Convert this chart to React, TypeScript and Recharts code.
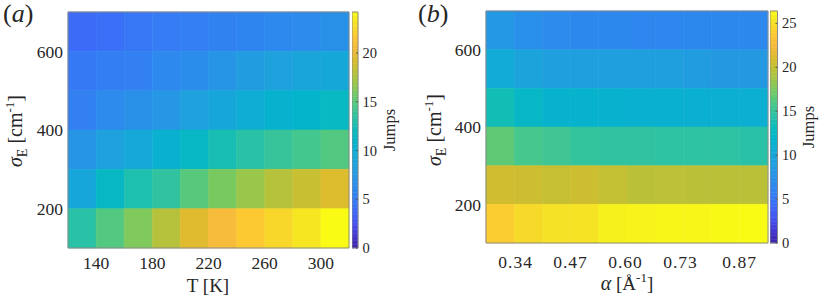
import React from 'react';
import { ComposedChart, XAxis, YAxis, ReferenceArea, Label } from 'recharts';

// grid of the two maps (cell centres)
const temperatures = [130, 150, 170, 190, 210, 230, 250, 270, 290, 310];
const tempStep = 20;
const alphas = [0.3033, 0.37, 0.4367, 0.5033, 0.57, 0.6367, 0.7033, 0.77, 0.8367, 0.9033];
const alphaStep = 0.0667;
const sigmas = [650, 550, 450, 350, 250, 150];
const sigmaStep = 100;

// jumps, one row per sigma (top row first)
const jumpsVsT = [
  [4.0, 4.2, 4.6, 4.9, 5.2, 5.5, 5.8, 6.1, 6.3, 6.8],
  [4.7, 5.1, 5.3, 6.1, 6.5, 7.3, 8.0, 8.5, 9.0, 9.3],
  [5.3, 6.3, 6.8, 7.5, 8.5, 9.2, 9.9, 10.6, 10.9, 11.6],
  [7.3, 8.5, 9.4, 10.4, 11.4, 12.6, 13.3, 13.8, 14.3, 14.8],
  [9.2, 11.4, 12.8, 13.6, 15.0, 16.0, 16.9, 17.9, 18.6, 19.4],
  [13.3, 14.8, 16.2, 17.9, 19.6, 20.8, 21.8, 22.5, 23.2, 24.2],
];
const jumpsVsAlpha = [
  [8.2, 7.4, 6.9, 6.6, 6.6, 6.5, 6.5, 6.6, 6.6, 6.6],
  [10.6, 9.5, 9.0, 9.0, 9.0, 9.0, 9.0, 8.7, 8.4, 8.4],
  [13.5, 12.4, 11.6, 11.6, 11.5, 11.4, 11.4, 11.2, 11.1, 11.1],
  [16.6, 15.7, 15.4, 14.9, 14.8, 14.8, 14.7, 14.7, 14.7, 14.5],
  [20.6, 20.5, 20.2, 20.5, 20.1, 19.7, 19.8, 19.7, 19.7, 19.7],
  [24.0, 24.7, 25.1, 25.2, 25.9, 26.0, 26.1, 26.1, 26.3, 26.4],
];

const tempTicks = [140, 180, 220, 260, 300];
const alphaTicks = [0.34, 0.47, 0.6, 0.73, 0.87];
const sigmaTicks = [200, 400, 600];
const jumpTicksA = [0, 5, 10, 15, 20];
const jumpTicksB = [0, 5, 10, 15, 20, 25];
const jumpMaxA = 24.2;
const jumpMaxB = 26.4;

// parula-like colormap
const parulaStops = [
  '#3e26a8', '#4535cf', '#4650ef', '#3f66f8', '#357bf5', '#2d88ee', '#2795e5',
  '#1fa1de', '#12aad6', '#04b4cb', '#0bbbbb', '#2ac2a6', '#49c889', '#70ca67',
  '#9ac74a', '#bdc137', '#dcbc2c', '#f6b93d', '#fdc932', '#f5e125', '#f9fb15',
];
const colorbarLevels = 64;

const hexToRgb = (h: string) => [1, 3, 5].map((i) => parseInt(h.slice(i, i + 2), 16));

const parula = (f: number) => {
  const t = Math.max(0, Math.min(1, f)) * (parulaStops.length - 1);
  const i = Math.min(Math.floor(t), parulaStops.length - 2);
  const a = hexToRgb(parulaStops[i]);
  const b = hexToRgb(parulaStops[i + 1]);
  const k = t - i;
  const c = a.map((v, n) => Math.round(v + (b[n] - v) * k));
  return `rgb(${c[0]},${c[1]},${c[2]})`;
};

const FONT = 'Liberation Serif, Times New Roman, serif';
const INK = '#262626';
const BORDER = '#8a8a8a';

type MapProps = {
  xs: number[];
  xStep: number;
  xDomain: [number, number];
  xTicks: number[];
  xFormat: (v: number) => string;
  xTickSpacing: number;
  values: number[][];
  cmax: number;
  width: number;
  top: number;
  bottom: number;
  yAxisWidth: number;
  right: number;
  xTickMargin: number;
  xTitle: React.ReactNode;
  yTitleX: number;
  yTitleY: number;
  letter: string;
  letterX: number;
};

const SigmaTitle = ({ x, y }: { x: number; y: number }) => (
  <text x={x} y={y} transform={`rotate(-90, ${x}, ${y})`} textAnchor="middle" fontFamily={FONT} fontSize={20} fill={INK}>
    <tspan fontStyle="italic">σ</tspan>
    <tspan fontSize={14} dy={5}>E</tspan>
    <tspan dy={-5}> [cm</tspan>
    <tspan fontSize={13} dy={-8}>-1</tspan>
    <tspan dy={8}>]</tspan>
  </text>
);

const HeatMap = (p: MapProps) => {
  const ys = sigmas;
  return (
    <ComposedChart
      width={p.width}
      height={302}
      margin={{ top: p.top, right: p.right, bottom: 0, left: 0 }}
    >
      <XAxis
        type="number"
        dataKey="x"
        domain={p.xDomain}
        ticks={p.xTicks}
        tickFormatter={p.xFormat}
        allowDataOverflow
        height={p.bottom}
        axisLine={false}
        tickLine={false}
        tickSize={3}
        tickMargin={p.xTickMargin}
        interval={0}
        tick={{ fontFamily: FONT, fontSize: 17.5, fill: INK, letterSpacing: p.xTickSpacing }}
      >
        <Label content={() => p.xTitle} />
      </XAxis>
      <YAxis
        type="number"
        dataKey="y"
        domain={[100, 700]}
        ticks={sigmaTicks}
        allowDataOverflow
        width={p.yAxisWidth}
        axisLine={false}
        tickLine={false}
        tickSize={3}
        tickMargin={2}
        interval={0}
        tick={{ fontFamily: FONT, fontSize: 17.5, fill: INK }}
      >
        <Label
          content={() => (
            <g>
              <SigmaTitle x={p.yTitleX} y={p.yTitleY} />
              <text x={p.letterX} y={22} fontFamily={FONT} fontSize={26} fill={INK}>
                (<tspan fontStyle="italic">{p.letter}</tspan>)
              </text>
            </g>
          )}
        />
      </YAxis>
      {p.values.map((row, i) =>
        row.map((v, j) => {
          const c = parula(v / p.cmax);
          return (
            <ReferenceArea
              key={`c-${i}-${j}`}
              x1={p.xs[j] - p.xStep / 2}
              x2={p.xs[j] + p.xStep / 2}
              y1={ys[i] - sigmaStep / 2}
              y2={ys[i] + sigmaStep / 2}
              fill={c}
              fillOpacity={1}
              stroke={c}
              strokeWidth={0.6}
              ifOverflow="visible"
            />
          );
        })
      )}
      <ReferenceArea
        x1={p.xDomain[0]}
        x2={p.xDomain[1]}
        y1={100}
        y2={700}
        fill="none"
        fillOpacity={0}
        stroke={BORDER}
        strokeWidth={1}
        ifOverflow="visible"
      />
    </ComposedChart>
  );
};

type BarProps = {
  cmax: number;
  ticks: number[];
  top: number;
  bottom: number;
  barWidth: number;
  titleX: number;
  titleY: number;
};

const ColorBar = (p: BarProps) => {
  const w = 52;
  const step = p.cmax / colorbarLevels;
  const levels = Array.from({ length: colorbarLevels }, (_, i) => i);
  return (
    <ComposedChart width={w} height={302} margin={{ top: p.top, right: 0, bottom: p.bottom, left: 0 }}>
      <XAxis type="number" dataKey="x" domain={[0, 1]} allowDataOverflow hide />
      <YAxis
        type="number"
        dataKey="v"
        orientation="right"
        domain={[0, p.cmax]}
        ticks={p.ticks}
        allowDataOverflow
        width={w - p.barWidth}
        axisLine={false}
        tickLine={{ stroke: '#555' }}
        tickSize={-2}
        tickMargin={6.5}
        interval={0}
        tick={{ fontFamily: FONT, fontSize: 14.5, fill: INK }}
      >
        <Label
          content={() => (
            <text
              x={p.titleX}
              y={p.titleY}
              transform={`rotate(-90, ${p.titleX}, ${p.titleY})`}
              textAnchor="middle"
              fontFamily={FONT}
              fontSize={16.5}
              fill={INK}
            >
              Jumps
            </text>
          )}
        />
      </YAxis>
      {levels.map((i) => {
        const c = parula((i + 0.5) / colorbarLevels);
        return (
          <ReferenceArea
            key={`l-${i}`}
            x1={0}
            x2={1}
            y1={i * step}
            y2={(i + 1) * step}
            fill={c}
            fillOpacity={1}
            stroke={c}
            strokeWidth={0.5}
            ifOverflow="visible"
          />
        );
      })}
      <ReferenceArea
        x1={0}
        x2={1}
        y1={0}
        y2={p.cmax}
        fill="none"
        fillOpacity={0}
        stroke={BORDER}
        strokeWidth={1}
        ifOverflow="visible"
      />
    </ComposedChart>
  );
};

const App = () => {
  return (
    <div
      style={{
        position: 'relative',
        width: 822,
        height: 302,
        background: '#fff',
        overflow: 'hidden',
        fontFamily: FONT,
      }}
    >
      <style>{'body{margin:0} .recharts-text{font-family:"Liberation Serif","Times New Roman",serif}'}</style>
      <div style={{ position: 'absolute', left: 0, top: 0 }}>
        <HeatMap
          xs={temperatures}
          xStep={tempStep}
          xDomain={[120, 320]}
          xTicks={tempTicks}
          xFormat={(v) => String(v)}
          xTickSpacing={0}
          values={jumpsVsT}
          cmax={jumpMaxA}
          width={352}
          top={12}
          bottom={54}
          yAxisWidth={68}
          right={3}
          xTickMargin={6}
          xTitle={
            <text x={208} y={292} textAnchor="middle" fontFamily={FONT} fontSize={19} fill={INK}>
              T [K]
            </text>
          }
          yTitleX={22}
          yTitleY={131}
          letter="a"
          letterX={3}
        />
      </div>
      <div style={{ position: 'absolute', left: 352, top: 0 }}>
        <ColorBar cmax={jumpMaxA} ticks={jumpTicksA} top={12} bottom={54} barWidth={6} titleX={43} titleY={130} />
      </div>
      <div style={{ position: 'absolute', left: 411, top: 0 }}>
        <HeatMap
          xs={alphas}
          xStep={alphaStep}
          xDomain={[0.27, 0.937]}
          xTicks={alphaTicks}
          xFormat={(v) => v.toFixed(2)}
          xTickSpacing={1}
          values={jumpsVsAlpha}
          cmax={jumpMaxB}
          width={360}
          top={11}
          bottom={59}
          yAxisWidth={75}
          right={3}
          xTickMargin={10}
          xTitle={
            <text x={216} y={290} textAnchor="middle" fontFamily={FONT} fontSize={19} fill={INK}>
              <tspan fontStyle="italic" fontSize={20}>α</tspan>
              <tspan> [Å</tspan>
              <tspan fontSize={13} dy={-8}>-1</tspan>
              <tspan dy={8}>]</tspan>
            </text>
          }
          yTitleX={30}
          yTitleY={130}
          letter="b"
          letterX={7}
        />
      </div>
      <div style={{ position: 'absolute', left: 770, top: 0 }}>
        <ColorBar cmax={jumpMaxB} ticks={jumpTicksB} top={11} bottom={59} barWidth={7.5} titleX={44} titleY={127} />
      </div>
    </div>
  );
};

export default App;
